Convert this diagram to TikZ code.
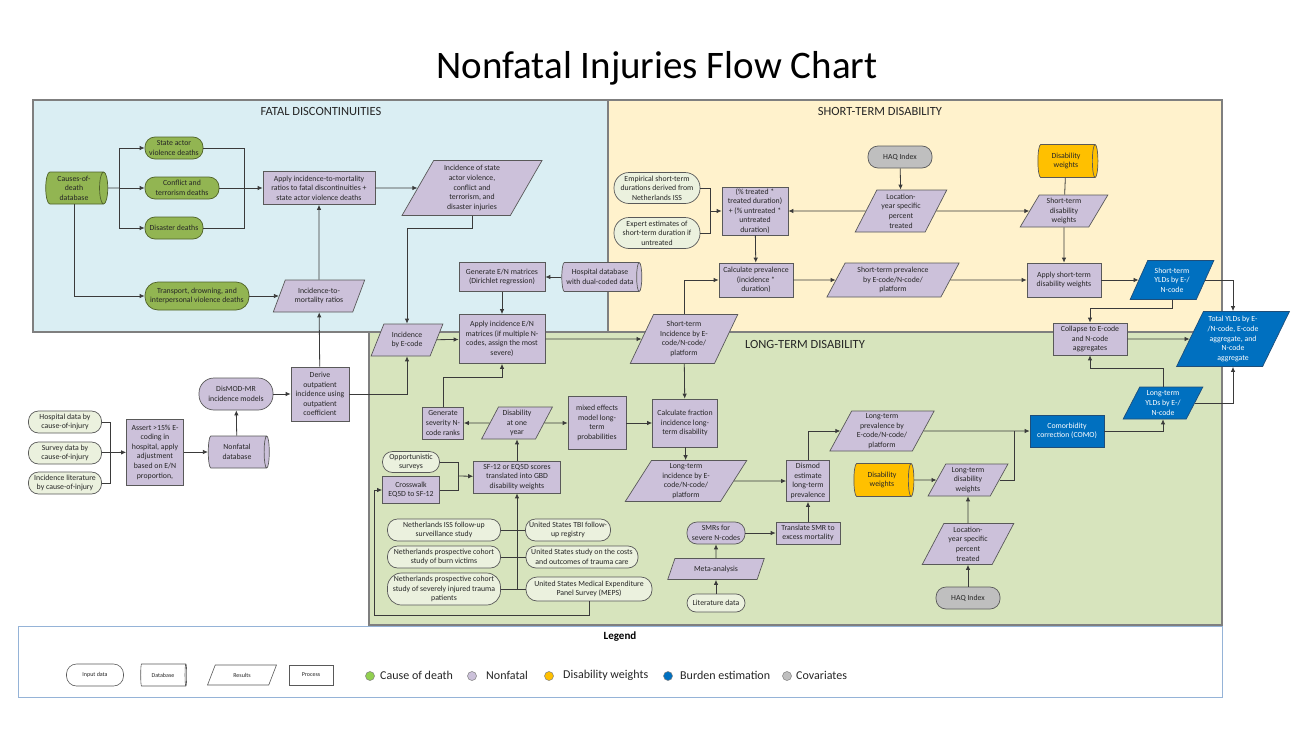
\documentclass[tikz,border=0pt]{standalone}
\usepackage{fontspec}
\setmainfont{Carlito}
\usetikzlibrary{shapes.geometric,shapes.misc,arrows.meta}
\definecolor{fatbg}{HTML}{DAEEF3}
\definecolor{stbg}{HTML}{FFF2CC}
\definecolor{ltbg}{HTML}{D7E4BD}
\definecolor{grn}{HTML}{92B552}
\definecolor{grnd}{HTML}{4F6228}
\definecolor{lav}{HTML}{CCC1DA}
\definecolor{cream}{HTML}{EBF1DE}
\definecolor{bluen}{HTML}{0070C0}
\definecolor{blued}{HTML}{1F4E79}
\definecolor{orng}{HTML}{FFC000}
\definecolor{grayn}{HTML}{BFBFBF}
\definecolor{bordc}{HTML}{595959}
\definecolor{linec}{HTML}{3A3A3A}
\definecolor{textc}{HTML}{262626}
\definecolor{regc}{HTML}{7F7F7F}
\definecolor{legc}{HTML}{95B3D7}
\definecolor{legg}{HTML}{92D050}
\newcommand\nodefnt{\fontsize{7.8}{9.6}\selectfont}
\begin{document}
\begin{tikzpicture}[x=1pt,y=-1pt,
  nb/.style={font=\nodefnt, text=textc, align=center, inner sep=0.5pt, draw=bordc, line width=0.7pt},
  sz/.style 2 args={minimum width=#1pt, minimum height=#2pt},
  csz/.style 2 args={minimum height=#1pt, minimum width=#2pt},
  proc/.style={nb, rectangle, fill=lav},
  bproc/.style={nb, rectangle, fill=bluen, draw=blued, text=white},
  para/.style={nb, trapezium, trapezium left angle=63, trapezium right angle=117, trapezium stretches=true, fill=lav},
  bpara/.style={para, fill=bluen, draw=blued, text=white},
  stad/.style={nb, rectangle, rounded corners=#1}, stad/.default=10pt,
  cstad/.style={stad=#1, fill=cream}, cstad/.default=10pt,
  gstad/.style={stad=#1, fill=grn, draw=grnd}, gstad/.default=10pt,
  lstad/.style={stad=#1, fill=lav}, lstad/.default=10pt,
  hstad/.style={stad=#1, fill=grayn}, hstad/.default=10pt,
  dbase/.style={nb, cylinder, shape aspect=0.32, cylinder uses custom fill, cylinder body fill=#1, cylinder end fill=#1},
  conn/.style={draw=linec, line width=0.8pt},
  arr/.style={conn, -{Latex[length=5pt,width=4.5pt]}},
  region/.style={draw=regc, line width=1.3pt},
  hdr/.style={font=\fontsize{12.5}{14}\selectfont, text=textc},
  legt/.style={font=\fontsize{12}{14}\selectfont, text=textc, anchor=west, inner sep=0pt},
  legs/.style={font=\fontsize{6}{7}\selectfont, text=textc, fill=white, draw=bordc, line width=0.6pt, align=center, inner sep=0.5pt},
  dot/.style={circle, draw=gray, line width=0.5pt, minimum size=9pt, inner sep=0pt}
]
\fill[white] (0,0) rectangle (1314,728);
\useasboundingbox (0,0) rectangle (1314,728);

\node[font=\fontsize{39}{45}\selectfont, text=black] (title) at (657,68) {Nonfatal Injuries Flow Chart};

% regions
\draw[region, fill=fatbg] (33,100) rectangle (608,332);
\draw[region, fill=stbg] (608,100) rectangle (1222,332);
\draw[region, fill=ltbg] (369,332) rectangle (1222,625);
\draw[draw=legc, line width=0.8pt, fill=white] (18,626) rectangle (1222,697);

\node[hdr] (h1) at (321,111) {FATAL DISCONTINUITIES};
\node[hdr] (h2) at (880,111) {SHORT-TERM DISABILITY};
\node[hdr] (h3) at (805,344) {LONG-TERM DISABILITY};

% ---- fatal discontinuities
\node[dbase=grn, draw=grnd, csz={62}{32}] (cod) at (74,188) {Causes-of-\\death\\database};
\node[gstad, sz={58}{22}] (sav) at (174,148) {State actor\\violence deaths};
\node[gstad, sz={74}{22}] (ctd) at (182,188) {Conflict and\\terrorism deaths};
\node[gstad, sz={58}{22}] (dis) at (174,228) {Disaster deaths};
\node[gstad=13pt, sz={104}{28}] (tdi) at (197,296) {Transport, drowning, and\\interpersonal violence deaths};
\node[proc, sz={112}{33}] (aim) at (319,188) {Apply incidence-to-mortality\\ratios to fatal discontinuities +\\state actor violence deaths};
\node[para, sz={140}{55}] (iss) at (472,188) {Incidence of state\\actor violence,\\conflict and\\terrorism, and\\disaster injuries};
\node[para, sz={92}{32}] (imr) at (319,296) {Incidence-to-\\mortality ratios};

\coordinate (f1) at (119,188);
\coordinate (f2) at (244,188);
\coordinate (c1) at (407,228);
\draw[conn] (cod) -- (f1);
\draw[arr] (f1) |- (sav);
\draw[arr] (f1) |- (dis);
\draw[arr] (f1) -- (ctd);
\draw[arr] (cod) |- (tdi);
\draw[conn] (sav) -| (f2);
\draw[conn] (dis) -| (f2);
\draw[arr] (ctd) -- (aim);
\draw[arr] (aim) -- (iss);
\draw[arr] (tdi) -- (imr);
\draw[arr] (imr) -- (aim);

% ---- middle
\node[proc, sz={86}{29}] (gen) at (502,277) {Generate E/N matrices\\(Dirichlet regression)};
\node[dbase=lav, csz={80}{29}] (hdb) at (600,277) {Hospital database\\with dual-coded data};
\node[proc, sz={86}{49}] (aie) at (502,339) {Apply incidence E/N\\matrices (if multiple N-\\codes, assign the most\\severe)};
\node[para, sz={72}{32}] (iebe) at (407,340) {Incidence\\by E-code};
\draw[arr] (iss) |- (c1) -- (iebe);
\draw[arr] (hdb) -- (gen);
\draw[arr] (gen) -- (aie);
\draw[arr] (iebe) -- (aie);

% ---- short-term
\node[cstad=15pt, sz={86}{31}] (emp) at (657,188) {Empirical short-term\\durations derived from\\Netherlands ISS};
\node[cstad=15pt, sz={86}{31}] (exp) at (657,233) {Expert estimates of\\short-term duration if\\untreated};
\node[proc, sz={66}{48}] (pct) at (755,211) {(\% treated *\\treated duration)\\+ (\% untreated *\\untreated\\duration)};
\node[hstad, sz={64}{22}] (haq1) at (900,157) {HAQ Index};
\node[para, sz={92}{42}] (loc1) at (901,211) {Location-\\year specific\\percent\\treated};
\node[dbase=orng, csz={60}{33}] (dw1) at (1066,161) {Disability\\weights};
\node[para, sz={88}{32}] (stdw) at (1064,211) {Short-term\\disability\\weights};
\node[proc, sz={74}{34}] (calc) at (756,280) {Calculate prevalence\\(incidence *\\duration)};
\node[para, sz={133}{34}] (stp) at (893,280) {Short-term prevalence\\by E-code/N-code/\\platform};
\node[proc, sz={74}{34}] (ast) at (1064,280) {Apply short-term\\disability weights};
\node[bpara, sz={84}{39}] (styld) at (1172,280) {Short-term\\YLDs by E-/\\N-code};
\node[para, sz={108}{49}] (sti) at (684,339) {Short-term\\Incidence by E-\\code/N-code/\\platform};

\coordinate (f3) at (710,211);
\coordinate (c2) at (1090,308);
\draw[conn] (emp) -| (f3);
\draw[conn] (exp) -| (f3);
\draw[arr] (f3) -- (pct);
\draw[arr] (haq1) -- (loc1);
\draw[arr] (loc1) -- (pct);
\draw[arr] (loc1) -- (stdw);
\draw[conn] (dw1) -- (stdw);
\draw[arr] (stdw) -- (ast);
\draw[arr] (pct) -- (calc);
\draw[arr] (calc) -- (stp);
\draw[arr] (stp) -- (ast);
\draw[arr] (ast) -- (styld);
\draw[arr] (aie) -- (sti);
\draw[arr] (sti) |- (calc);

% ---- long-term
\node[proc, sz={74}{32}] (coll) at (1090,339) {Collapse to E-code\\and N-code\\aggregates};
\node[bpara, sz={113}{55}] (total) at (1233,339) {Total YLDs by E-\\/N-code, E-code\\aggregate, and\\N-code\\aggregate};
\node[bpara, sz={80}{32}] (ltyld) at (1163,403) {Long-term\\YLDs by E-/\\N-code};
\node[bproc, sz={74}{32}] (como) at (1067,431) {Comorbidity\\correction (COMO)};
\node[para, sz={80}{32}] (ltdw) at (968,480) {Long-term\\disability\\weights};
\node[para, sz={92}{41}] (loc2) at (968,544) {Location-\\year specific\\percent\\treated};
\node[hstad, sz={64}{22}] (haq2) at (968,598) {HAQ Index};
\node[dbase=orng, csz={60}{33}] (dw2) at (882,480) {Disability\\weights};
\node[para, sz={105}{40}] (ltp) at (882,431) {Long-term\\prevalence by\\E-code/N-code/\\platform};
\node[proc, sz={43}{41}] (dismod) at (808,481) {Dismod\\estimate\\long-term\\prevalence};
\node[para, sz={122}{41}] (lti) at (686,481) {Long-term\\incidence by E-\\code/N-code/\\platform};
\node[proc, sz={65}{48}] (cfrac) at (685,423) {Calculate fraction\\incidence long-\\term disability};
\node[proc, sz={64}{22}] (tsmr) at (808,533) {Translate SMR to\\excess mortality};
\node[lstad, sz={58}{22}] (smr) at (716,533) {SMRs for\\severe N-codes};
\node[para, sz={97}{21}] (meta) at (716,569) {Meta-analysis};
\node[cstad=9pt, sz={58}{18}] (lit) at (716,603) {Literature data};

\coordinate (c3) at (1090,368);
\coordinate (c4) at (1014,431);
\draw[arr] (styld) -| (total);
\draw[arr] (styld) |- (c2) -- (coll);
\draw[arr] (coll) -- (total);
\draw[arr] (ltyld) |- (c3) -- (coll);
\draw[arr] (ltyld) -| (total);
\draw[arr] (como) -| (ltyld);
\draw[arr] (ltp) -- (como);
\draw[conn] (ltdw) -| (c4);
\draw[arr] (dw2) -- (ltdw);
\draw[arr] (loc2) -- (ltdw);
\draw[arr] (haq2) -- (loc2);
\draw[arr] (dismod) |- (ltp);
\draw[arr] (lti) -- (dismod);
\draw[arr] (tsmr) -- (dismod);
\draw[arr] (smr) -- (tsmr);
\draw[arr] (meta) -- (smr);
\draw[arr] (lit) -- (meta);
\draw[arr] (sti) -- (cfrac);
\draw[arr] (cfrac) -- (lti);

% ---- disability weights sources
\node[proc, sz={41}{32}] (gsev) at (443,423) {Generate\\severity N-\\code ranks};
\node[para, sz={71}{32}] (d1y) at (517,423) {Disability\\at one\\year};
\node[proc, sz={58}{53}] (mem) at (597,423) {mixed effects\\model long-\\term\\probabilities};
\node[proc, sz={87}{32}] (sf) at (517,477) {SF-12 or EQ5D scores\\translated into GBD\\disability weights};
\node[cstad, sz={57}{21}] (opp) at (411,462) {Opportunistic\\surveys};
\node[proc, sz={57}{27}] (cross) at (411,490) {Crosswalk\\EQ5D to SF-12};
\node[cstad, sz={113}{22}] (n1) at (444,530) {Netherlands ISS follow-up\\surveillance study};
\node[cstad, sz={113}{22}] (n2) at (444,557) {Netherlands prospective cohort\\study of burn victims};
\node[cstad=14pt, sz={113}{32}] (n3) at (444,589) {Netherlands prospective cohort\\study of severely injured trauma\\patients};
\node[cstad, sz={85}{22}] (u1) at (568,530) {United States TBI follow-\\up registry};
\node[cstad, sz={112}{22}] (u2) at (582,557) {United States study on the costs\\and outcomes of trauma care};
\node[cstad=11pt, sz={126}{24}] (u3) at (589,589) {United States Medical Expenditure\\Panel Survey (MEPS)};

\coordinate (c5) at (502,377);
\coordinate (f5) at (458,476);
\coordinate (f6) at (517,589);
\coordinate (c6) at (374,615);
\draw[arr] (d1y) -- (gsev);
\draw[arr] (d1y) -- (mem);
\draw[arr] (mem) -- (cfrac);
\draw[arr] (gsev) |- (c5) -- (aie);
\draw[arr] (sf) -- (d1y);
\draw[conn] (opp) -| (f5);
\draw[conn] (cross) -| (f5);
\draw[arr] (f5) -- (sf);
\draw[conn] (n1) -- (u1);
\draw[conn] (n2) -- (u2);
\draw[conn] (n3) -- (u3);
\draw[arr] (f6) -- (sf);
\draw[arr] (u3) |- (c6) |- (cross);

% ---- input data (left)
\node[cstad, sz={73}{22}] (hd) at (65,422) {Hospital data by\\cause-of-injury};
\node[cstad, sz={73}{22}] (sd) at (65,453) {Survey data by\\cause-of-injury};
\node[cstad, sz={73}{22}] (il) at (65,483) {Incidence literature\\by cause-of-injury};
\node[proc, sz={57}{66}] (assert) at (155,452) {Assert >15\% E-\\coding in\\hospital, apply\\adjustment\\based on E/N\\proportion,};
\node[dbase=lav, csz={61}{32}] (nfdb) at (237,452) {Nonfatal\\database};
\node[lstad=15pt, sz={74}{32}] (dmr) at (236,394) {DisMOD-MR\\incidence models};
\node[proc, sz={58}{54}] (derive) at (320,394) {Derive\\outpatient\\incidence using\\outpatient\\coefficient};

\coordinate (f7) at (110,453);
\draw[conn] (hd) -| (f7);
\draw[conn] (il) -| (f7);
\draw[arr] (sd) -- (assert);
\draw[arr] (assert) -- (nfdb);
\draw[arr] (nfdb) -- (dmr);
\draw[arr] (dmr) -- (derive);
\draw[arr] (derive) -- (imr);
\draw[arr] (derive) -| (iebe);

% ---- legend
\node[font=\bfseries\fontsize{11}{13}\selectfont, text=black] (leg) at (620,637) {Legend};
\node[legs, rectangle, rounded corners=10pt, minimum width=57pt, minimum height=22pt] (lg1) at (95,675) {Input data};
\node[legs, cylinder, shape aspect=0.32, minimum height=46pt, minimum width=22pt] (lg2) at (163,675) {Database};
\node[legs, trapezium, trapezium left angle=63, trapezium right angle=117, trapezium stretches=true, minimum width=69pt, minimum height=20pt] (lg3) at (242,675) {Results};
\node[legs, rectangle, minimum width=44pt, minimum height=20pt] (lg4) at (311,675) {Process};
\node[dot, fill=legg] (d1) at (370,676) {};
\node[legt] (t1) at (380,675) {Cause of death};
\node[dot, fill=lav] (d2) at (472,676) {};
\node[legt] (t2) at (486,675) {Nonfatal};
\node[dot, fill=orng] (d3) at (549,676) {};
\node[legt] (t3) at (563,675) {Disability weights};
\node[dot, fill=bluen] (d4) at (668,676) {};
\node[legt] (t4) at (680,675) {Burden estimation};
\node[dot, fill=grayn] (d5) at (787,676) {};
\node[legt] (t5) at (796,675) {Covariates};
\end{tikzpicture}
\end{document}
